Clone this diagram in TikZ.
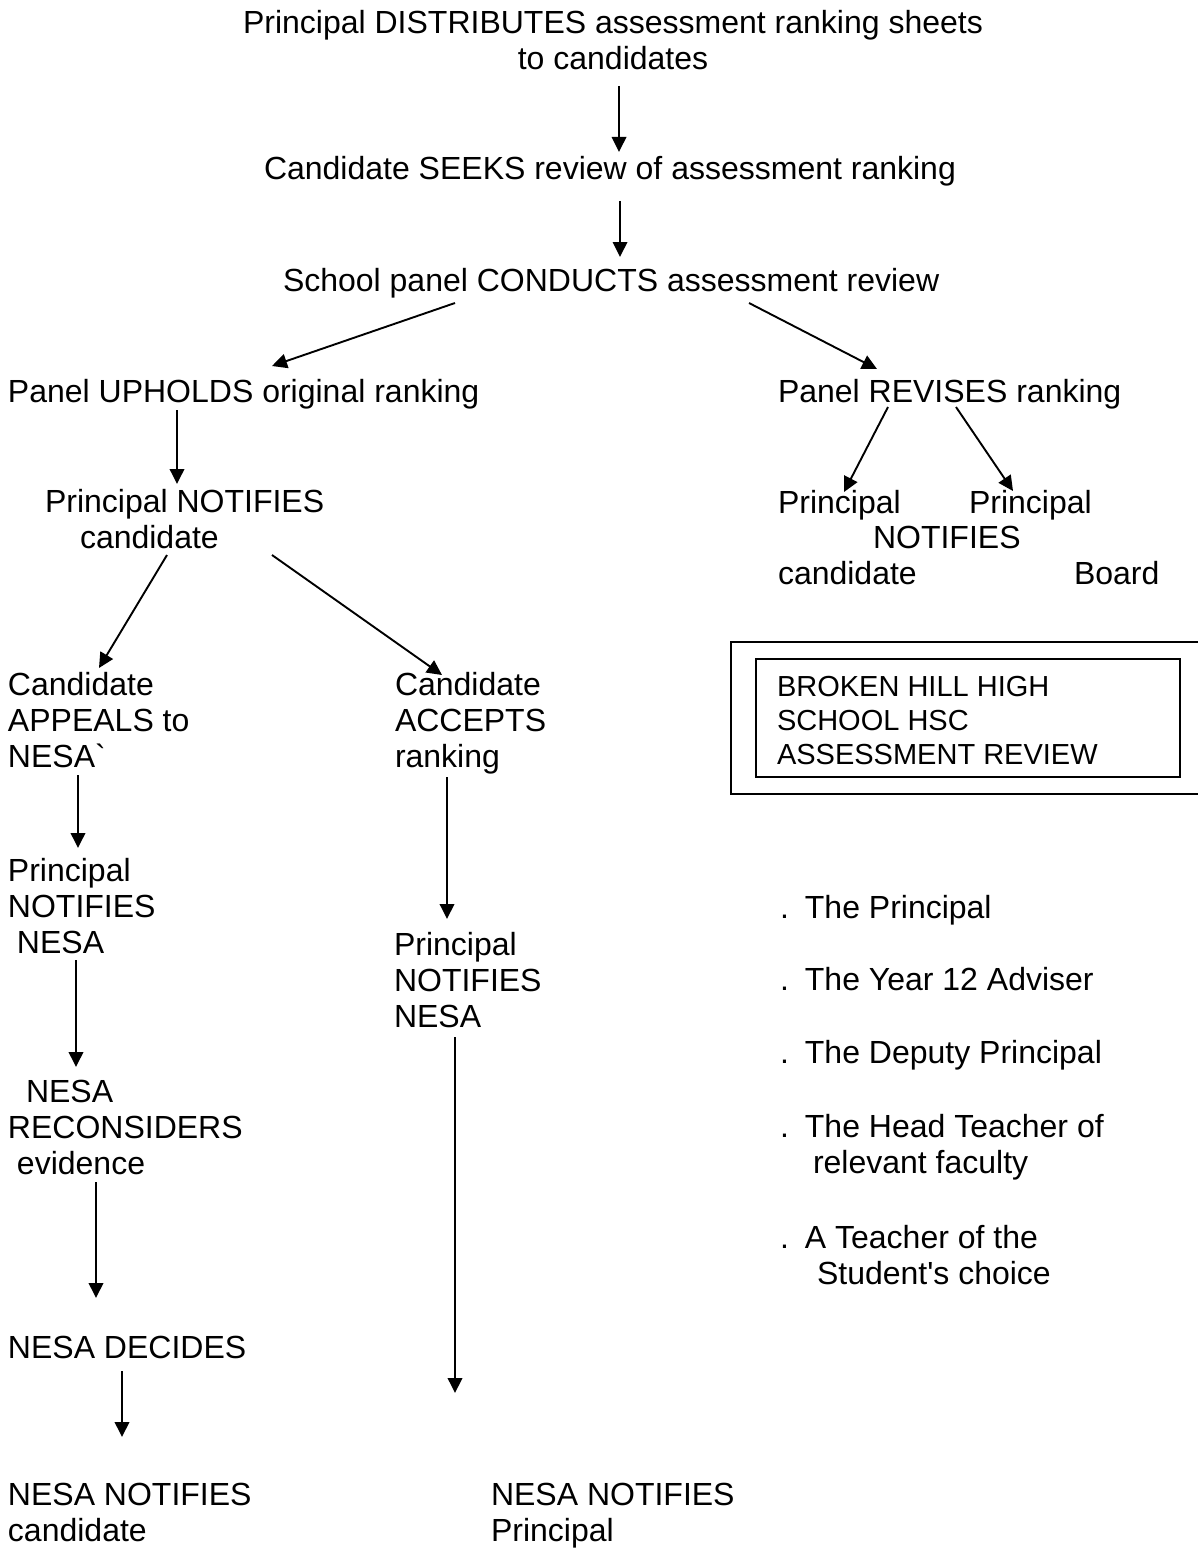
\documentclass[tikz,border=0pt]{standalone}
\usepackage{fontspec}
\setmainfont{Liberation Sans}
\usetikzlibrary{arrows.meta}
\newcommand{\mlines}[1]{\begin{tabular}[t]{@{}l@{}}#1\end{tabular}}
\newcommand{\clines}[1]{\begin{tabular}[t]{@{}c@{}}#1\end{tabular}}
\tikzset{
  txt/.style={inner sep=0pt, outer sep=0pt, anchor=base west, font=\fontsize{32}{36}\selectfont},
  ctxt/.style={txt, anchor=base},
  boxtxt/.style={txt, font=\fontsize{29}{34}\selectfont},
  arr/.style={line width=1.9pt, -{Triangle[length=15pt,width=14.5pt]}},
  frame/.style={line width=1.6pt}
}
\begin{document}
\begin{tikzpicture}[x=1pt,y=-1pt]
\useasboundingbox[fill=white] (0,0) rectangle (1197,1549);

% main column
\node[ctxt] (t1) at (613,34) {\clines{Principal DISTRIBUTES assessment ranking sheets\\to candidates}};
\node[txt] (t2) at (264,180) {Candidate SEEKS review of assessment ranking};
\node[txt] (t3) at (283,291) {School panel CONDUCTS assessment review};
\node[txt] (up) at (8,402) {Panel UPHOLDS original ranking};
\node[txt] (rev) at (778,402) {Panel REVISES ranking};

% upheld branch
\node[txt] (notc) at (45,512) {\mlines{Principal NOTIFIES\\\hspace*{35pt}candidate}};
\node[txt] (appeal) at (8,695) {\mlines{Candidate\\APPEALS to\\NESA\textasciigrave}};
\node[txt] (accept) at (395,695) {\mlines{Candidate\\ACCEPTS\\ranking}};
\node[txt] (pnn1) at (8,881) {\mlines{Principal\\NOTIFIES\\\hspace*{9pt}NESA}};
\node[txt] (recon) at (8,1102) {\mlines{\hspace*{18pt}NESA\\RECONSIDERS\\\hspace*{9pt}evidence}};
\node[txt] (decides) at (8,1358) {NESA DECIDES};
\node[txt] (nnc) at (8,1505) {\mlines{NESA NOTIFIES\\candidate}};
\node[txt] (pnn2) at (394,955) {\mlines{Principal\\NOTIFIES\\NESA}};
\node[txt] (nnp) at (491,1505) {\mlines{NESA NOTIFIES\\Principal}};

% revised branch
\node[txt] (rpc) at (778,513) {Principal};
\node[txt] (rpb) at (969,513) {Principal};
\node[txt] (rnot) at (873,548) {NOTIFIES};
\node[txt] (rcand) at (778,584) {candidate};
\node[txt] (rboard) at (1074,584) {Board};

% title box
\draw[frame] (1205,642) -- (731,642) -- (731,794) -- (1205,794);
\draw[frame] (756,659) rectangle (1180,777);
\node[boxtxt] (title) at (777,696) {\begin{tabular}[t]{@{}l@{}}BROKEN HILL HIGH\\SCHOOL HSC\\ASSESSMENT REVIEW\end{tabular}};

% panel members
\node[txt] (m1) at (780,918) {.\hspace*{16pt}The Principal};
\node[txt] (m2) at (780,990) {.\hspace*{16pt}The Year 12 Adviser};
\node[txt] (m3) at (780,1063) {.\hspace*{16pt}The Deputy Principal};
\node[txt] (m4) at (780,1137) {\mlines{.\hspace*{16pt}The Head Teacher of\\\hspace*{33pt}relevant faculty}};
\node[txt] (m5) at (780,1248) {\mlines{.\hspace*{16pt}A Teacher of the\\\hspace*{37pt}Student\textquotesingle s choice}};

% connectors
\draw[arr] ([shift={(6,52)}]t1.base) -- ([shift={(355,-28)}]t2.base west);
\draw[arr] ([shift={(356,21)}]t2.base west) -- ([shift={(337,-34)}]t3.base west);
\draw[arr] ([shift={(172,12)}]t3.base west) -- ([shift={(264,-36)}]up.base west);
\draw[arr] ([shift={(466,12)}]t3.base west) -- ([shift={(99,-33)}]rev.base west);
\draw[arr] ([shift={(169,8)}]up.base west) -- ([shift={(132,-28)}]notc.base west);
\draw[arr] ([shift={(122,43)}]notc.base west) -- ([shift={(91,-27)}]appeal.base west);
\draw[arr] ([shift={(227,43)}]notc.base west) -- ([shift={(47,-20)}]accept.base west);
\draw[arr] ([shift={(70,80)}]appeal.base west) -- ([shift={(70,-33)}]pnn1.base west);
\draw[arr] ([shift={(68,79)}]pnn1.base west) -- ([shift={(68,-35)}]recon.base west);
\draw[arr] ([shift={(88,80)}]recon.base west) -- ([shift={(88,-60)}]decides.base west);
\draw[arr] ([shift={(114,13)}]decides.base west) -- ([shift={(114,-68)}]nnc.base west);
\draw[arr] ([shift={(52,82)}]accept.base west) -- ([shift={(53,-36)}]pnn2.base west);
\draw[arr] ([shift={(61,82)}]pnn2.base west) -- ([shift={(-36,-112)}]nnp.base west);
\draw[arr] ([shift={(110,5)}]rev.base west) -- ([shift={(66,-21)}]rpc.base west);
\draw[arr] ([shift={(178,5)}]rev.base west) -- ([shift={(44,-22)}]rpb.base west);
\end{tikzpicture}
\end{document}
